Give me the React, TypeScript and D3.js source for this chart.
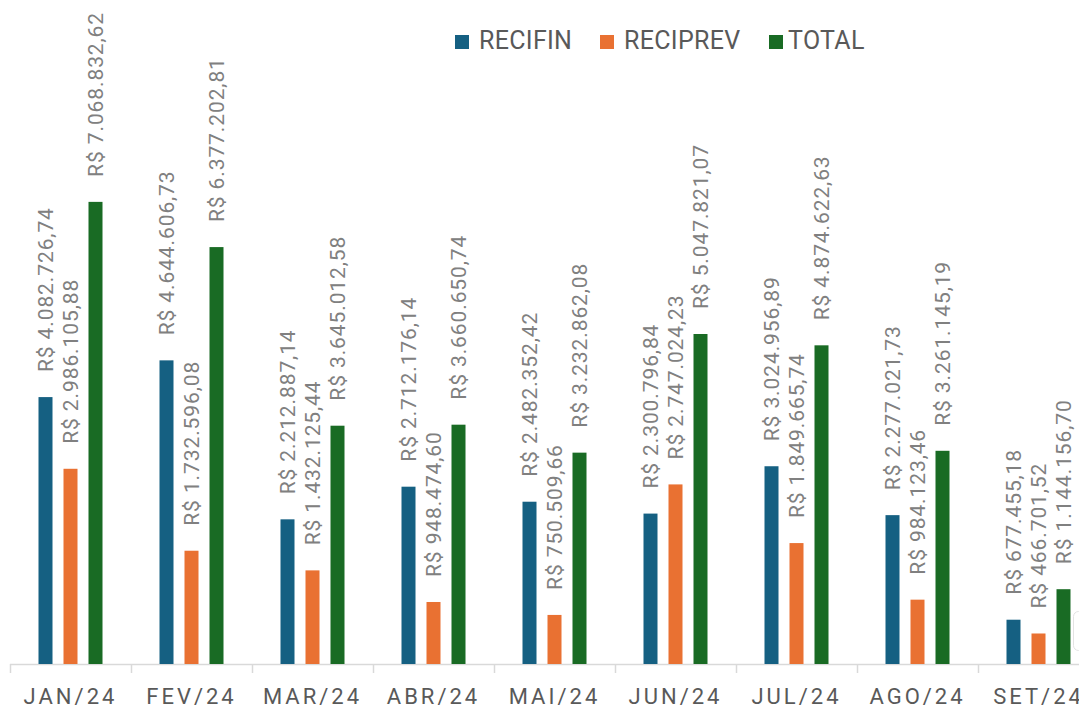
import { formatLocale, scaleBand, scaleLinear } from "d3";

const months = ["JAN/24", "FEV/24", "MAR/24", "ABR/24", "MAI/24", "JUN/24", "JUL/24", "AGO/24", "SET/24"];
const seriesNames = ["RECIFIN", "RECIPREV", "TOTAL"];
const recifin = [4082726.74, 4644606.73, 2212887.14, 2712176.14, 2482352.42, 2300796.84, 3024956.89, 2277021.73, 677455.18];
const reciprev = [2986105.88, 1732596.08, 1432125.44, 948474.6, 750509.66, 2747024.23, 1849665.74, 984123.46, 466701.52];
const total = [7068832.62, 6377202.81, 3645012.58, 3660650.74, 3232862.08, 5047821.07, 4874622.63, 3261145.19, 1144156.7];
const seriesColors = ["#156082", "#E97132", "#196B24"];

const brl = formatLocale({ decimal: ",", thousands: ".", grouping: [3], currency: ["R$ ", ""] }).format("$,.2f");

const width = 1079;
const height = 707;
const baseline = 664;
const font = "Roboto, 'Open Sans', sans-serif";

export default function App() {
  const values = [recifin, reciprev, total];
  const x0 = scaleBand<string>().domain(months).range([10, 1099]);
  const x1 = scaleBand<string>().domain(seriesNames).range([0, 64]).paddingInner(0.44);
  const y = scaleLinear().domain([0, 8000000]).range([baseline, 141]);
  const legendX = [455, 600, 769];

  return (
    <svg width={width} height={height} style={{ position: "absolute", left: 0, top: 0, background: "#fff" }} fontFamily={font}>
      <line x1={10} x2={width} y1={baseline + 0.5} y2={baseline + 0.5} stroke="#d9d9d9" strokeWidth={1.5} />
      {months.map((m) => (
        <line key={`t-${m}`} x1={(x0(m) ?? 0) + 0.5} x2={(x0(m) ?? 0) + 0.5} y1={baseline} y2={baseline + 9} stroke="#d9d9d9" strokeWidth={1.5} />
      ))}

      {months.map((m, i) => {
        const cx = (x0(m) ?? 0) + x0.bandwidth() / 2;
        return (
          <g key={m}>
            {seriesNames.map((s, k) => {
              const v = values[k][i];
              const bx = cx - 32 + (x1(s) ?? 0);
              const top = y(v);
              const bc = bx + x1.bandwidth() / 2;
              return (
                <g key={s}>
                  <rect x={bx} y={top} width={x1.bandwidth()} height={baseline - top} fill={seriesColors[k]} />
                  <text transform={`translate(${bc}, ${top - 25}) rotate(-90)`} dy="0.35em" fontSize={21} letterSpacing={0.9} fill="#808080">
                    {brl(v)}
                  </text>
                </g>
              );
            })}
            <text x={cx} y={704} textAnchor="middle" fontSize={22} letterSpacing={3} fill="#595959">
              {m}
            </text>
          </g>
        );
      })}

      {seriesNames.map((s, k) => (
        <g key={`lg-${s}`} transform={`translate(${legendX[k]}, 35)`}>
          <rect x={0} y={0} width={14} height={14} fill={seriesColors[k]} />
          <text x={k === 2 ? 19 : 24} y={14} fontSize={25} letterSpacing={0.3} fill="#595959">
            {s}
          </text>
        </g>
      ))}

      <rect x={1073.5} y={611.5} width={20} height={39} rx={5} fill="#fff" stroke="#e3e3e3" />
    </svg>
  );
}
